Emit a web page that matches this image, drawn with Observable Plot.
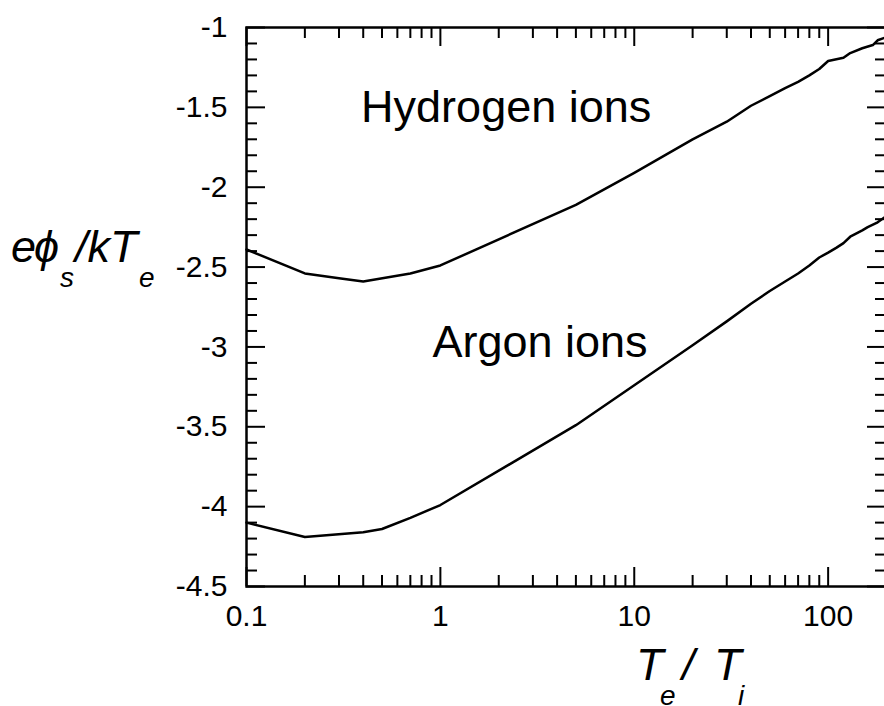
<!DOCTYPE html>
<html><head><meta charset="utf-8">
<script src="https://cdn.jsdelivr.net/npm/d3@7"></script>
<script src="https://cdn.jsdelivr.net/npm/@observablehq/plot@0.6"></script>
<style>
body{margin:0;background:#fff;}
#chart svg{overflow:visible;}
</style>
</head><body><div id="chart"></div>
<script>
// ---- data ----
const hydrogenX = [0.1, 0.2, 0.3, 0.4, 0.7, 1, 5, 10, 20, 30, 40, 50, 60, 70, 80, 90, 100, 120, 130, 150, 170, 180, 200];
const hydrogenY = [-2.39, -2.54, -2.57, -2.59, -2.54, -2.49, -2.11, -1.91, -1.70, -1.59, -1.49, -1.43, -1.38, -1.34, -1.30, -1.26, -1.21, -1.19, -1.16, -1.13, -1.11, -1.08, -1.06];
const argonX = [0.1, 0.2, 0.4, 0.5, 0.7, 1, 5, 10, 20, 30, 40, 50, 60, 70, 80, 90, 100, 110, 120, 130, 150, 160, 180, 200];
const argonY = [-4.10, -4.19, -4.16, -4.14, -4.07, -3.99, -3.49, -3.24, -2.99, -2.84, -2.73, -2.65, -2.59, -2.54, -2.49, -2.44, -2.41, -2.38, -2.35, -2.31, -2.27, -2.25, -2.22, -2.18];
const seriesNames = ["Hydrogen ions", "Argon ions"];
const labelX = [0.39, 0.91];
const labelY = [-1.5, -2.97];
const xTickValues = [0.1, 1, 10, 100];
const xTickLabels = ["0.1", "1", "10", "100"];
const yTickValues = [-1, -1.5, -2, -2.5, -3, -3.5, -4, -4.5];
const yTickLabels = ["-1", "-1.5", "-2", "-2.5", "-3", "-3.5", "-4", "-4.5"];
const xDomain = [0.1, 200];
const yDomain = [-4.5, -1];

// ---- derived tables ----
const lineData = [
  ...hydrogenX.map((x, i) => ({x, y: hydrogenY[i], series: seriesNames[0]})),
  ...argonX.map((x, i) => ({x, y: argonY[i], series: seriesNames[1]}))
];
const xMinor = [];
for (const dec of [0.1, 1, 10, 100]) for (let k = 2; k <= 9; k++) { const v = +(dec * k).toPrecision(3); if (v <= xDomain[1]) xMinor.push(v); }
const xMajor = xTickValues;
const yMinor = [];
for (let k = 10; k <= 45; k++) if (k % 5 !== 0) yMinor.push(-k / 10);
const yMajor = yTickValues;

const W = 884, H = 706, mL = 246, mT = 27, mB = 120, mR = -2;
const innerH = H - mT - mB, innerW = W - mL - mR;
const majorLen = 19, minorLen = 11;
const FONT = "'Liberation Sans', Arial, sans-serif";

const plot = Plot.plot({
  width: W, height: H,
  marginLeft: mL, marginTop: mT, marginBottom: mB, marginRight: mR,
  style: {fontFamily: FONT, color: "black", background: "white"},
  x: {type: "log", domain: xDomain, axis: null},
  y: {domain: yDomain, axis: null},
  marks: [
    // inward ticks: bottom & top
    Plot.ruleX(xMinor, {x: d => d, insetTop: innerH - minorLen, stroke: "black", strokeWidth: 2}),
    Plot.ruleX(xMajor, {x: d => d, insetTop: innerH - majorLen, stroke: "black", strokeWidth: 2}),
    Plot.ruleX(xMinor, {x: d => d, insetBottom: innerH - minorLen, stroke: "black", strokeWidth: 2}),
    Plot.ruleX(xMajor, {x: d => d, insetBottom: innerH - majorLen, stroke: "black", strokeWidth: 2}),
    // inward ticks: left & right
    Plot.ruleY(yMinor, {y: d => d, insetRight: innerW - minorLen, stroke: "black", strokeWidth: 2}),
    Plot.ruleY(yMajor, {y: d => d, insetRight: innerW - majorLen, stroke: "black", strokeWidth: 2}),
    Plot.ruleY(yMinor, {y: d => d, insetLeft: innerW - minorLen, stroke: "black", strokeWidth: 2}),
    Plot.ruleY(yMajor, {y: d => d, insetLeft: innerW - majorLen, stroke: "black", strokeWidth: 2}),
    Plot.frame({stroke: "black", strokeWidth: 2.5}),
    // tick labels
    Plot.text(xTickValues, {x: d => d, frameAnchor: "bottom", dy: 18, lineAnchor: "top", text: d => xTickLabels[xTickValues.indexOf(d)], fontSize: 30, fill: "black"}),
    Plot.text(yTickValues, {y: d => d, frameAnchor: "left", dx: -19, textAnchor: "end", text: d => yTickLabels[yTickValues.indexOf(d)], fontSize: 30, fill: "black"}),
    Plot.line(lineData, {x: "x", y: "y", z: "series", stroke: "black", strokeWidth: 2.5}),
    Plot.text(seriesNames, {x: (d, i) => labelX[i], y: (d, i) => labelY[i], text: d => d, textAnchor: "start", fontSize: 45, fill: "black"})
  ]
});
document.getElementById("chart").appendChild(plot);

// ---- axis titles with subscripts ----
const svg = d3.select(plot);
const yt = svg.append("text")
  .attr("font-family", FONT).attr("text-anchor", "start")
  .attr("font-style", "italic").attr("font-size", 45).attr("fill", "black")
  .attr("y", 262);
yt.append("tspan").attr("x", 11).text("e");
yt.append("tspan").attr("x", 34).text("\u03D5");
yt.append("tspan").attr("x", 60).attr("y", 287).attr("font-size", 28).text("s");
yt.append("tspan").attr("x", 75).attr("y", 262).text("/kT");
yt.append("tspan").attr("x", 139).attr("y", 287).attr("font-size", 28).text("e");

const xt = svg.append("text")
  .attr("font-family", FONT).attr("text-anchor", "start")
  .attr("font-style", "italic").attr("font-size", 45).attr("fill", "black")
  .attr("y", 680);
xt.append("tspan").attr("x", 636).text("T");
xt.append("tspan").attr("x", 660).attr("y", 705).attr("font-size", 28).text("e");
xt.append("tspan").attr("x", 682).attr("y", 680).text("/");
xt.append("tspan").attr("x", 714).text("T");
xt.append("tspan").attr("x", 738).attr("y", 705).attr("font-size", 28).text("i");
</script>
</body></html>
